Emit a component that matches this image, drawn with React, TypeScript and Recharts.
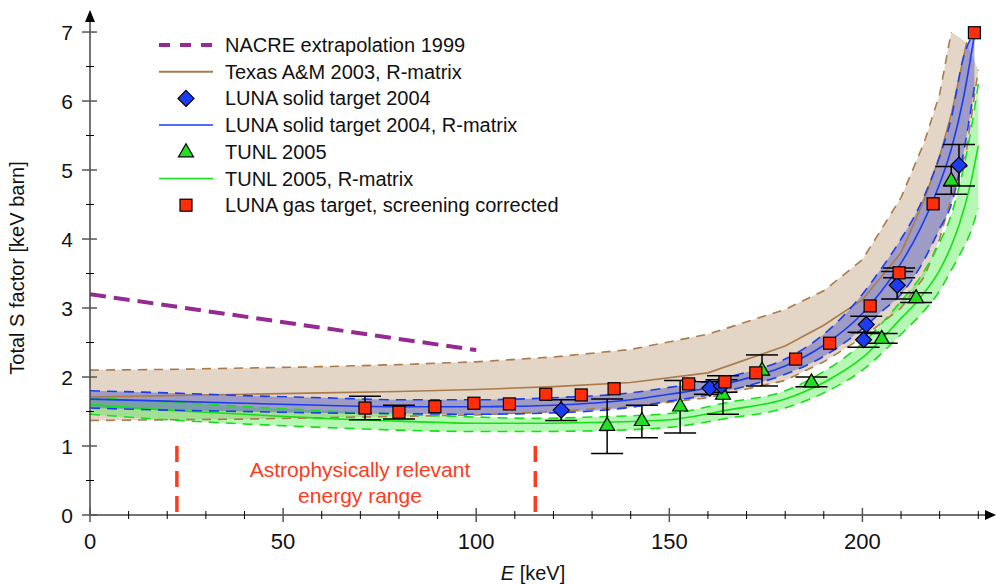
import React from 'react';
import { ComposedChart, Area, Line, Scatter, ErrorBar, XAxis, YAxis, ReferenceLine } from 'recharts';

// Texas A&M 2003 R-matrix band
const texasE = [0, 20, 40, 60, 80, 100, 120, 140, 160, 180, 190, 200, 210, 216, 220, 223, 227, 230];
const texasLow = [1.37, 1.38, 1.39, 1.41, 1.43, 1.45, 1.5, 1.57, 1.7, 1.95, 2.22, 2.57, 3.0, 3.45, 4.0, 4.6, 5.3, 6.45];
const texasFit = [1.71, 1.73, 1.75, 1.77, 1.79, 1.82, 1.86, 1.92, 2.06, 2.45, 2.75, 3.12, 3.8, 4.57, 5.2, 5.8, 6.85, null];
const texasHigh = [2.1, 2.11, 2.13, 2.15, 2.18, 2.22, 2.29, 2.4, 2.62, 2.98, 3.25, 3.7, 4.6, 5.4, 6.1, 7.0, null, null];

// LUNA solid target 2004 R-matrix band
const blueE = [0, 20, 40, 60, 80, 100, 120, 140, 150, 160, 170, 180, 190, 200, 205, 210, 215, 220, 223, 226, 229];
const blueLow = [1.55, 1.52, 1.5, 1.48, 1.47, 1.46, 1.48, 1.56, 1.65, 1.74, 1.87, 2.04, 2.3, 2.7, 2.95, 3.2, 3.6, 4.15, 4.5, 5.2, 6.2];
const blueFit = [1.68, 1.65, 1.62, 1.59, 1.57, 1.57, 1.59, 1.67, 1.75, 1.84, 1.98, 2.16, 2.46, 2.92, 3.25, 3.65, 4.15, 4.8, 5.3, 6.0, 6.95];
const blueHigh = [1.8, 1.77, 1.73, 1.7, 1.67, 1.67, 1.7, 1.77, 1.85, 1.94, 2.07, 2.26, 2.62, 3.2, 3.58, 4.0, 4.5, 5.2, 5.75, 6.6, 7.0];

// TUNL 2005 R-matrix band
const greenE = [0, 20, 40, 60, 80, 100, 115, 130, 150, 165, 180, 190, 200, 210, 215, 220, 223, 225, 228, 230];
const greenLow = [1.46, 1.38, 1.32, 1.27, 1.23, 1.21, 1.21, 1.22, 1.27, 1.4, 1.55, 1.77, 2.1, 2.62, 2.9, 3.25, 3.55, 3.75, 4.1, 4.45];
const greenFit = [1.6, 1.52, 1.46, 1.4, 1.36, 1.33, 1.33, 1.34, 1.38, 1.52, 1.68, 1.92, 2.28, 2.85, 3.15, 3.55, 3.9, 4.2, 4.8, 5.35];
const greenHigh = [1.7, 1.64, 1.57, 1.51, 1.46, 1.42, 1.4, 1.42, 1.47, 1.63, 1.8, 2.08, 2.49, 3.1, 3.45, 3.95, 4.35, 4.75, 5.55, 6.25];

// NACRE extrapolation 1999
const nacreE = [0, 100];
const nacreS = [3.2, 2.39];

// LUNA gas target, screening corrected (null = error bar hidden behind the marker)
const gasE = [71.2, 80.0, 89.3, 99.4, 108.6, 118.0, 127.2, 135.7, 155.0, 164.4, 172.4, 182.7, 191.5, 202.0, 209.5, 218.3, 229.0];
const gasS = [1.55, 1.49, 1.57, 1.62, 1.61, 1.75, 1.74, 1.83, 1.9, 1.93, 2.06, 2.26, 2.49, 3.03, 3.51, 4.51, 6.99];
const gasErr = [0.17, 0.1, null, null, null, null, null, null, null, null, null, null, null, null, 0.07, null, null];

// LUNA solid target 2004
const solidE = [122.0, 160.5, 163.5, 200.3, 201.0, 209.0, 225.0];
const solidS = [1.52, 1.84, 1.87, 2.54, 2.76, 3.33, 5.07];
const solidErr = [0.15, 0.09, 0.09, 0.11, 0.12, 0.2, 0.3];

// TUNL 2005
const tunlE = [133.9, 142.9, 152.8, 163.9, 174.0, 186.8, 205.0, 213.9, 223.0];
const tunlS = [1.3, 1.37, 1.58, 1.75, 2.1, 1.93, 2.56, 3.15, 4.85];
const tunlErrLow = [0.41, 0.25, 0.39, 0.29, 0.23, 0.07, 0.07, 0.07, 0.2];
const tunlErrHigh = [0.38, 0.22, 0.37, 0.27, 0.22, 0.07, 0.07, 0.07, 0.2];

const xTicks = [0, 10, 20, 30, 40, 50, 60, 70, 80, 90, 100, 110, 120, 130, 140, 150, 160, 170, 180, 190, 200, 210, 220, 230];
const yTicks = [0, 0.5, 1, 1.5, 2, 2.5, 3, 3.5, 4, 4.5, 5, 5.5, 6, 6.5, 7];
const rangeMarks = [22.5, 115.3];

const legendItems = [
    { label: 'NACRE extrapolation 1999', kind: 'nacre' },
    { label: 'Texas A&M 2003, R-matrix', kind: 'texas' },
    { label: 'LUNA solid target 2004', kind: 'diamond' },
    { label: 'LUNA solid target 2004, R-matrix', kind: 'blue' },
    { label: 'TUNL 2005', kind: 'triangle' },
    { label: 'TUNL 2005, R-matrix', kind: 'green' },
    { label: 'LUNA gas target, screening corrected', kind: 'square' },
];

const FONT = '"Liberation Sans", Arial, sans-serif';
const PURPLE = '#952a92';
const TAN_LINE = '#ac7b4b';
const TAN_FILL = '#e3d6c6';
const BLUE = '#1c3cf2';
const GREEN = '#16e016';
const RED = '#ff2d0a';
const RANGE_RED = '#ff3b1e';

const texasRows = texasE.map((e, i) => ({
    e,
    lo: texasLow[i],
    mid: texasFit[i],
    hi: texasHigh[i],
    band: [texasLow[i], texasHigh[i] ?? texasFit[i] ?? texasLow[i]],
}));
const blueRows = blueE.map((e, i) => ({ e, lo: blueLow[i], mid: blueFit[i], hi: blueHigh[i], band: [blueLow[i], blueHigh[i]] }));
const greenRows = greenE.map((e, i) => ({ e, lo: greenLow[i], mid: greenFit[i], hi: greenHigh[i], band: [greenLow[i], greenHigh[i]] }));
const nacreRows = nacreE.map((e, i) => ({ e, s: nacreS[i] }));
const gasRows = gasE.map((e, i) => ({ e, s: gasS[i], err: gasErr[i] == null ? null : [gasErr[i], gasErr[i]] }));
const gasWithErr = gasRows.filter((r) => r.err != null);
const gasNoErr = gasRows.filter((r) => r.err == null);
const solidRows = solidE.map((e, i) => ({ e, s: solidS[i], err: [solidErr[i], solidErr[i]] }));
const tunlRows = tunlE.map((e, i) => ({ e, s: tunlS[i], err: [tunlErrLow[i], tunlErrHigh[i]] }));

const SquareMark = ({ cx, cy }: any) => (
    <rect x={cx - 6} y={cy - 6} width={12} height={12} fill={RED} stroke="#000" strokeWidth={1.2} />
);
const DiamondMark = ({ cx, cy }: any) => (
    <polygon points={`${cx},${cy - 8} ${cx + 8},${cy} ${cx},${cy + 8} ${cx - 8},${cy}`} fill={BLUE} stroke="#000" strokeWidth={1.2} />
);
const TriangleMark = ({ cx, cy }: any) => (
    <polygon points={`${cx},${cy - 8} ${cx + 7.5},${cy + 5} ${cx - 7.5},${cy + 5}`} fill="#22dd22" stroke="#000" strokeWidth={1.2} />
);

function XTick(props: any) {
    const { x, y, payload } = props;
    const major = payload.value % 50 === 0;
    return (
        <g>
            <line x1={x} x2={x} y1={y - (major ? 7 : 4)} y2={y + (major ? 7 : 4)} stroke={major ? '#555' : '#000'} strokeWidth={major ? 1.5 : 1} />
            {major && (
                <text x={x} y={y + 34} textAnchor="middle" fontSize={22} fontFamily={FONT} fill="#111">
                    {payload.value}
                </text>
            )}
        </g>
    );
}

function YTick(props: any) {
    const { x, y, payload } = props;
    const major = Number.isInteger(payload.value);
    return (
        <g>
            <line x1={x - (major ? 8 : 4)} x2={x + (major ? 7 : 4)} y1={y} y2={y} stroke={major ? '#555' : '#000'} strokeWidth={major ? 1.5 : 1} />
            {major && (
                <text x={x - 17} y={y + 7.5} textAnchor="end" fontSize={21} fontFamily={FONT} fill="#111">
                    {payload.value}
                </text>
            )}
        </g>
    );
}

function LegendSymbol({ kind, y }: { kind: string; y: number }) {
    const x0 = 159, x1 = 213, cx = 186;
    switch (kind) {
        case 'nacre':
            return <line x1={x0} x2={x1} y1={y} y2={y} stroke={PURPLE} strokeWidth={4} strokeDasharray="11 10" />;
        case 'texas':
            return <line x1={x0} x2={x1} y1={y} y2={y} stroke={TAN_LINE} strokeWidth={2} />;
        case 'blue':
            return <line x1={x0} x2={x1} y1={y} y2={y} stroke={BLUE} strokeWidth={1.5} />;
        case 'green':
            return <line x1={x0} x2={x1} y1={y} y2={y} stroke={GREEN} strokeWidth={1.5} />;
        case 'diamond':
            return <DiamondMark cx={cx} cy={y} />;
        case 'triangle':
            return <TriangleMark cx={cx} cy={y} />;
        default:
            return <SquareMark cx={cx} cy={y} />;
    }
}

export default function App() {
    return (
        <div style={{ position: 'absolute', left: 0, top: 0, width: 996, height: 584, background: '#fff' }}>
            <ComposedChart width={996} height={584} margin={{ top: 21, right: 10, bottom: 0, left: 0 }}>
                <XAxis
                    type="number"
                    dataKey="e"
                    domain={[0, 232]}
                    ticks={xTicks}
                    interval={0}
                    allowDataOverflow
                    height={69}
                    tickSize={0}
                    tickMargin={0}
                    tickLine={false}
                    tick={XTick}
                    axisLine={{ stroke: '#444', strokeWidth: 1.5 }}
                />
                <YAxis
                    type="number"
                    domain={[0, 7.16]}
                    ticks={yTicks}
                    interval={0}
                    allowDataOverflow
                    width={90}
                    tickSize={0}
                    tickMargin={0}
                    tickLine={false}
                    tick={YTick}
                    axisLine={{ stroke: '#444', strokeWidth: 1.5 }}
                />

                <Area data={texasRows} dataKey="band" type="linear" fill={TAN_FILL} fillOpacity={1} stroke="none" isAnimationActive={false} />
                <Area data={greenRows} dataKey="band" type="monotone" fill="#44ee44" fillOpacity={0.4} stroke="none" isAnimationActive={false} />
                <Area data={blueRows} dataKey="band" type="monotone" fill="#4a55c0" fillOpacity={0.45} stroke="none" isAnimationActive={false} />

                <Line data={texasRows} dataKey="hi" type="linear" stroke={TAN_LINE} strokeWidth={1.6} strokeDasharray="9 7" dot={false} activeDot={false} isAnimationActive={false} />
                <Line data={texasRows} dataKey="lo" type="linear" stroke={TAN_LINE} strokeWidth={1.6} strokeDasharray="9 7" dot={false} activeDot={false} isAnimationActive={false} />
                <Line data={texasRows} dataKey="mid" type="linear" stroke={TAN_LINE} strokeWidth={1.6} dot={false} activeDot={false} isAnimationActive={false} />

                <Line data={greenRows} dataKey="hi" type="monotone" stroke={GREEN} strokeWidth={1.6} strokeDasharray="10 7" dot={false} activeDot={false} isAnimationActive={false} />
                <Line data={greenRows} dataKey="lo" type="monotone" stroke={GREEN} strokeWidth={1.6} strokeDasharray="10 7" dot={false} activeDot={false} isAnimationActive={false} />
                <Line data={greenRows} dataKey="mid" type="monotone" stroke={GREEN} strokeWidth={1.6} dot={false} activeDot={false} isAnimationActive={false} />

                <Line data={blueRows} dataKey="hi" type="monotone" stroke={BLUE} strokeWidth={1.6} strokeDasharray="10 7" dot={false} activeDot={false} isAnimationActive={false} />
                <Line data={blueRows} dataKey="lo" type="monotone" stroke={BLUE} strokeWidth={1.6} strokeDasharray="10 7" dot={false} activeDot={false} isAnimationActive={false} />
                <Line data={blueRows} dataKey="mid" type="monotone" stroke={BLUE} strokeWidth={1.6} dot={false} activeDot={false} isAnimationActive={false} />

                <Line data={nacreRows} dataKey="s" type="linear" stroke={PURPLE} strokeWidth={4} strokeDasharray="16 8" dot={false} activeDot={false} isAnimationActive={false} />

                {rangeMarks.map((e) => (
                    <ReferenceLine
                        key={e}
                        segment={[{ x: e, y: 1.0 }, { x: e, y: 0.03 }]}
                        stroke={RANGE_RED}
                        strokeWidth={3.5}
                        strokeDasharray="16 9"
                    />
                ))}

                <Scatter data={tunlRows} dataKey="s" shape={TriangleMark} isAnimationActive={false}>
                    <ErrorBar dataKey="err" direction="y" width={16} stroke="#000" strokeWidth={1.5} />
                </Scatter>
                <Scatter data={solidRows} dataKey="s" shape={DiamondMark} isAnimationActive={false}>
                    <ErrorBar dataKey="err" direction="y" width={16} stroke="#000" strokeWidth={1.5} />
                </Scatter>
                <Scatter data={gasNoErr} dataKey="s" shape={SquareMark} isAnimationActive={false} />
                <Scatter data={gasWithErr} dataKey="s" shape={SquareMark} isAnimationActive={false}>
                    <ErrorBar dataKey="err" direction="y" width={16} stroke="#000" strokeWidth={1.5} />
                </Scatter>
            </ComposedChart>

            <svg width={996} height={584} style={{ position: 'absolute', left: 0, top: 0, pointerEvents: 'none' }}>
                <polygon points="90,10 85,22 95,22" fill="#000" />
                <polygon points="996,515 985,510 985,520" fill="#000" />

                {legendItems.map((item, i) => {
                    const y = 45 + i * 26.7;
                    return (
                        <g key={item.label}>
                            <LegendSymbol kind={item.kind} y={y} />
                            <text x={225} y={y + 7} fontSize={20} fontFamily={FONT} fill="#111">
                                {item.label}
                            </text>
                        </g>
                    );
                })}

                <text x={360} y={477} textAnchor="middle" fontSize={21} fontFamily={FONT} fill={RANGE_RED}>
                    Astrophysically relevant
                </text>
                <text x={360} y={503} textAnchor="middle" fontSize={21} fontFamily={FONT} fill={RANGE_RED}>
                    energy range
                </text>

                <text
                    transform="translate(24,268) rotate(-90)"
                    textAnchor="middle"
                    fontSize={20}
                    fontFamily={FONT}
                    fill="#111"
                >
                    Total S factor [keV barn]
                </text>
                <text x={533} y={580} textAnchor="middle" fontSize={20} fontFamily={FONT} fill="#111">
                    <tspan fontStyle="italic">E</tspan> [keV]
                </text>
            </svg>
        </div>
    );
}
